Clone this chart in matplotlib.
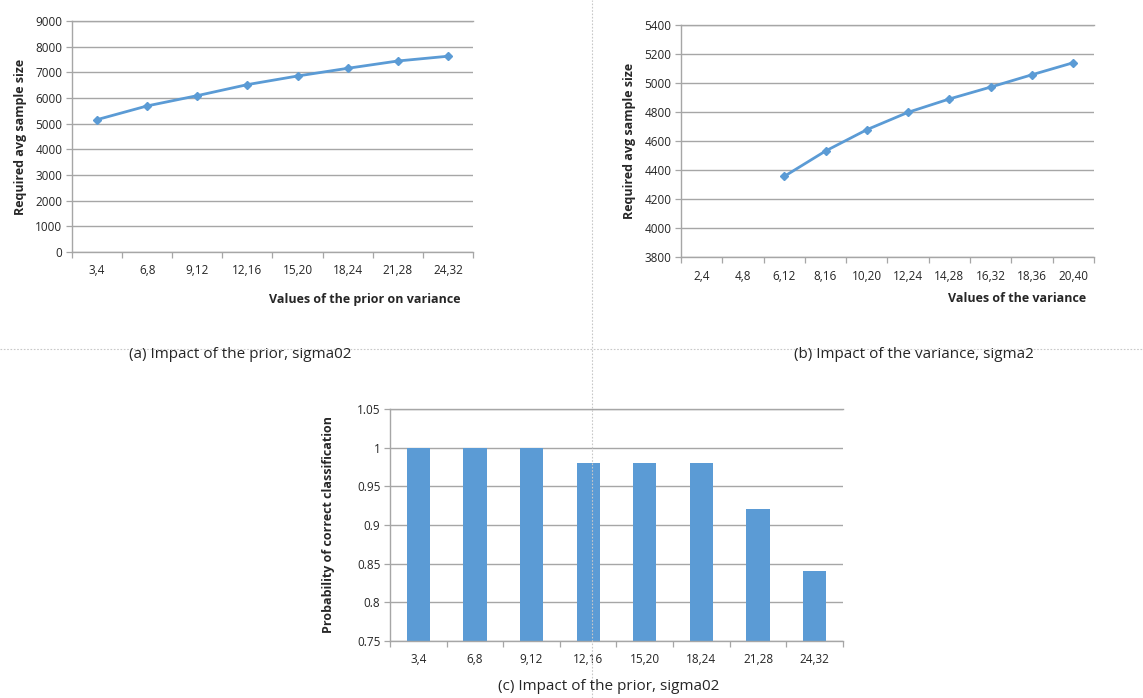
import matplotlib
matplotlib.use("Agg")
import matplotlib.pyplot as plt
import numpy as np
from matplotlib.lines import Line2D

plt.rcParams["font.family"] = ["Open Sans", "DejaVu Sans"]

# (a) impact of the prior
prior_labels = ["3,4", "6,8", "9,12", "12,16", "15,20", "18,24", "21,28", "24,32"]
prior_sample_size = [5155, 5690, 6090, 6520, 6855, 7155, 7440, 7625]

# (b) impact of the variance (first two categories have no value)
var_labels = ["2,4", "4,8", "6,12", "8,16", "10,20", "12,24", "14,28", "16,32", "18,36", "20,40"]
var_sample_size = [np.nan, np.nan, 4356, 4531, 4678, 4798, 4890, 4972, 5057, 5140]

# (c) probability of correct classification
prob_correct = [1.0, 1.0, 1.0, 0.98, 0.98, 0.98, 0.92, 0.84]

BLUE = "#5B9BD5"
GRID = "#A6A6A6"
TEXT = "#262626"


def style_axes(ax, labels, ylim, yticks, yfmt):
    n = len(labels)
    ax.set_xlim(-0.5, n - 0.5)
    ax.set_ylim(*ylim)
    ax.set_yticks(yticks)
    ax.set_yticklabels([yfmt(v) for v in yticks])
    ax.set_xticks(range(n))
    ax.set_xticklabels(labels)
    ax.set_xticks(np.arange(n + 1) - 0.5, minor=True)
    ax.tick_params(axis="x", which="major", length=0, pad=9, labelsize=8.5, colors=TEXT)
    ax.tick_params(axis="x", which="minor", length=4, width=0.9, color=GRID)
    ax.tick_params(axis="y", which="major", length=4, width=0.9, color=GRID, labelsize=8.5,
                   labelcolor=TEXT, pad=3)
    ax.grid(axis="y", color=GRID, linewidth=1.0)
    ax.set_axisbelow(True)
    ax.spines["right"].set_visible(False)
    for side in ["left", "bottom", "top"]:
        ax.spines[side].set_color(GRID)
        ax.spines[side].set_linewidth(1.0)


fig = plt.figure(figsize=(11.43, 6.98), dpi=100)
fig.patch.set_facecolor("white")

# separators
fig.add_artist(Line2D([0, 1], [0.5, 0.5], transform=fig.transFigure, color="#C8C8C8",
                      linestyle=(0, (1.5, 1.5)), linewidth=0.8))
fig.add_artist(Line2D([0.518, 0.518], [0.0, 1.0], transform=fig.transFigure, color="#C8C8C8",
                      linestyle=(0, (1.5, 1.5)), linewidth=0.8))

# (a)
ax_a = fig.add_axes([0.0630, 0.639, 0.3508, 0.331])
x_a = np.arange(len(prior_labels))
ax_a.plot(x_a, prior_sample_size, color=BLUE, linewidth=2, marker="D", markersize=4.5)
style_axes(ax_a, prior_labels, (0, 9000), range(0, 9001, 1000), lambda v: f"{v}")
ax_a.set_ylabel("Required avg sample size", fontsize=9, fontweight="bold", color=TEXT, labelpad=6)
ax_a.text(0.97, -0.205, "Values of the prior on variance", transform=ax_a.transAxes,
          ha="right", va="center", fontsize=9, fontweight="bold", color=TEXT)
fig.text(240 / 1143, 1 - 354 / 698, "(a) Impact of the prior, sigma02", ha="center",
         va="center", fontsize=11, color=TEXT)

# (b)
ax_b = fig.add_axes([0.5958, 0.6318, 0.3613, 0.3324])
x_b = np.arange(len(var_labels))
ax_b.plot(x_b, var_sample_size, color=BLUE, linewidth=2, marker="D", markersize=4.5)
style_axes(ax_b, var_labels, (3800, 5400), range(3800, 5401, 200), lambda v: f"{v}")
ax_b.set_ylabel("Required avg sample size", fontsize=9, fontweight="bold", color=TEXT, labelpad=6)
ax_b.text(0.98, -0.18, "Values of the variance", transform=ax_b.transAxes,
          ha="right", va="center", fontsize=9, fontweight="bold", color=TEXT)
fig.text(914 / 1143, 1 - 354 / 698, "(b) Impact of the variance, sigma2", ha="center",
         va="center", fontsize=11, color=TEXT)

# (c)
ax_c = fig.add_axes([0.3412, 0.0817, 0.3963, 0.3324])
x_c = np.arange(len(prior_labels))
ax_c.bar(x_c, np.array(prob_correct) - 0.75, bottom=0.75, width=0.41, color=BLUE)
yt_c = [0.75, 0.8, 0.85, 0.9, 0.95, 1.0, 1.05]
style_axes(ax_c, prior_labels, (0.75, 1.05), yt_c, lambda v: f"{v:g}")
ax_c.set_ylabel("Probability of correct classification", fontsize=9, fontweight="bold",
                color=TEXT, labelpad=16)
fig.text(609 / 1143, 1 - 686 / 698, "(c) Impact of the prior, sigma02", ha="center",
         va="center", fontsize=11, color=TEXT)

fig.savefig("out.png", dpi=100, facecolor="white")
